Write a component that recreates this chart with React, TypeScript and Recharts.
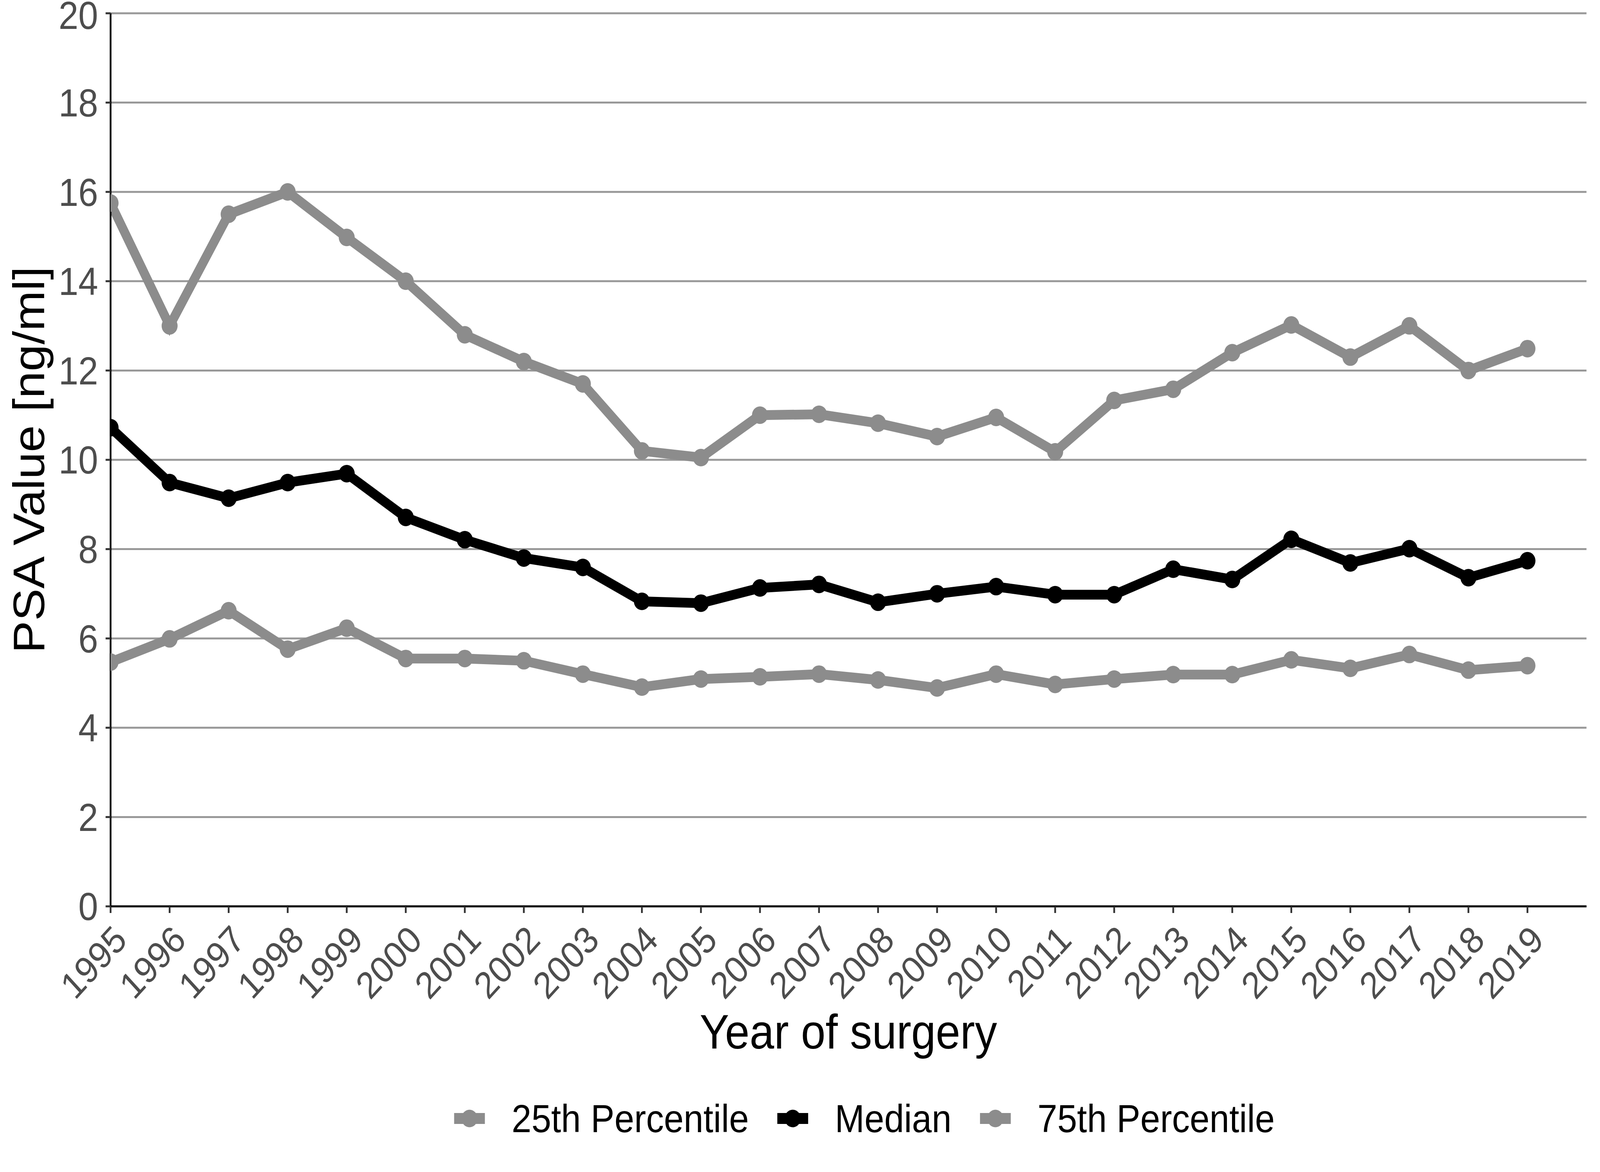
import React from "react";
import { LineChart, Line, XAxis, YAxis, CartesianGrid, Legend, Label } from "recharts";

const years = [1995, 1996, 1997, 1998, 1999, 2000, 2001, 2002, 2003, 2004, 2005, 2006, 2007, 2008, 2009, 2010, 2011, 2012, 2013, 2014, 2015, 2016, 2017, 2018, 2019];
const p75Values = [15.75, 13.0, 15.5, 16.0, 14.98, 14.0, 12.8, 12.2, 11.7, 10.2, 10.05, 11.0, 11.02, 10.82, 10.52, 10.95, 10.18, 11.33, 11.58, 12.4, 13.02, 12.3, 13.0, 12.0, 12.49];
const medianValues = [10.72, 9.49, 9.14, 9.49, 9.69, 8.71, 8.21, 7.8, 7.59, 6.83, 6.79, 7.13, 7.21, 6.81, 7.0, 7.16, 6.98, 6.98, 7.55, 7.32, 8.22, 7.69, 8.01, 7.36, 7.74];
const p25Values = [5.47, 5.99, 6.62, 5.76, 6.23, 5.55, 5.55, 5.5, 5.2, 4.91, 5.09, 5.14, 5.2, 5.07, 4.89, 5.2, 4.97, 5.09, 5.19, 5.19, 5.52, 5.33, 5.64, 5.29, 5.39];
const yTicks = [0, 2, 4, 6, 8, 10, 12, 14, 16, 18, 20];
const seriesNames = ["25th Percentile", "Median", "75th Percentile"];
const seriesColors = ["#8c8c8c", "#000000", "#8c8c8c"];

const data = years.map((year, i) => ({
  year,
  p25: p25Values[i],
  median: medianValues[i],
  p75: p75Values[i],
}));

const FONT = "'Liberation Sans', Arial, sans-serif";
const W = 4500;
const H = 3000;

const XTick = (props: any) => {
  const { x, y, payload } = props;
  const px = x + 2;
  return (
    <text
      x={px}
      y={y}
      transform={`rotate(-45, ${px}, ${y})`}
      textAnchor="end"
      dy="0.72em"
      fontSize={96}
      fontFamily={FONT}
      fill="#4d4d4d"
    >
      {payload.value}
    </text>
  );
};

const YTick = (props: any) => {
  const { x, y, payload } = props;
  const ty = payload.value === 20 ? y + 4 : y;
  return (
    <text x={x} y={ty} textAnchor="end" dy="0.355em" fontSize={100} fontFamily={FONT} fill="#4d4d4d">
      {payload.value}
    </text>
  );
};

const XTitle = () => (
  <text x={2386} y={2684} textAnchor="middle" fontSize={124} fontFamily={FONT} fill="#000">
    Year of surgery
  </text>
);

const YTitle = () => (
  <text x={124} y={1177} transform="rotate(-90, 124, 1177)" textAnchor="middle" fontSize={124} fontFamily={FONT} fill="#000">
    PSA Value [ng/ml]
  </text>
);

const LegendContent = () => (
  <div style={{ height: 274, width: "100%", position: "relative", fontFamily: FONT }}>
    <div style={{ position: "absolute", left: 1277, top: 0, height: 274, display: "flex", alignItems: "center" }}>
      {seriesNames.map((name, i) => (
        <div key={name} style={{ display: "flex", alignItems: "center", marginRight: i < seriesNames.length - 1 ? 80 : 0 }}>
          <svg width={87} height={50} style={{ display: "block" }}>
            <line x1={0} y1={25} x2={87} y2={25} stroke={seriesColors[i]} strokeWidth={28} />
            <circle cx={43.5} cy={25} r={22.5} fill={seriesColors[i]} />
          </svg>
          <span style={{ marginLeft: 75, fontSize: 100, color: "#000", lineHeight: "115px", whiteSpace: "nowrap" }}>{name}</span>
        </div>
      ))}
    </div>
  </div>
);

export default function App() {
  const vw = typeof window !== "undefined" ? window.innerWidth : W;
  const sx = Math.min(1, vw / W);
  return (
    <div style={{ position: "absolute", left: 0, top: 0, width: W * sx, height: H, overflow: "hidden", background: "#fff" }}>
      <div style={{ position: "absolute", left: 0, top: 0, width: W, height: H, transform: `scale(${sx}, 1)`, transformOrigin: "0 0" }}>
        <LineChart width={W} height={H} data={data} margin={{ top: 34, right: 38, left: 0, bottom: 0 }}>
          <CartesianGrid horizontal={true} vertical={false} stroke="#999999" strokeWidth={5} />
          <XAxis
            dataKey="year"
            type="number"
            domain={[1995, 2020]}
            ticks={years}
            interval={0}
            allowDataOverflow
            height={406}
            tickSize={17}
            tickMargin={25}
            axisLine={{ stroke: "#000", strokeWidth: 5 }}
            tickLine={{ stroke: "#333333", strokeWidth: 5 }}
            tick={<XTick />}
          >
            <Label content={<XTitle />} />
          </XAxis>
          <YAxis
            type="number"
            domain={[0, 20]}
            ticks={yTicks}
            interval={0}
            allowDataOverflow
            width={311}
            tickSize={14}
            tickMargin={21}
            axisLine={{ stroke: "#000", strokeWidth: 5 }}
            tickLine={{ stroke: "#333333", strokeWidth: 5 }}
            tick={<YTick />}
          >
            <Label content={<YTitle />} />
          </YAxis>
          <Legend verticalAlign="bottom" align="center" content={<LegendContent />} />
          <Line dataKey="p75" name="75th Percentile" stroke={seriesColors[2]} strokeWidth={25} dot={{ r: 22.5, fill: seriesColors[2], stroke: "none" }} activeDot={false} isAnimationActive={false} legendType="circle" />
          <Line dataKey="median" name="Median" stroke={seriesColors[1]} strokeWidth={25} dot={{ r: 22.5, fill: seriesColors[1], stroke: "none" }} activeDot={false} isAnimationActive={false} legendType="circle" />
          <Line dataKey="p25" name="25th Percentile" stroke={seriesColors[0]} strokeWidth={25} dot={{ r: 22.5, fill: seriesColors[0], stroke: "none" }} activeDot={false} isAnimationActive={false} legendType="circle" />
        </LineChart>
      </div>
    </div>
  );
}
